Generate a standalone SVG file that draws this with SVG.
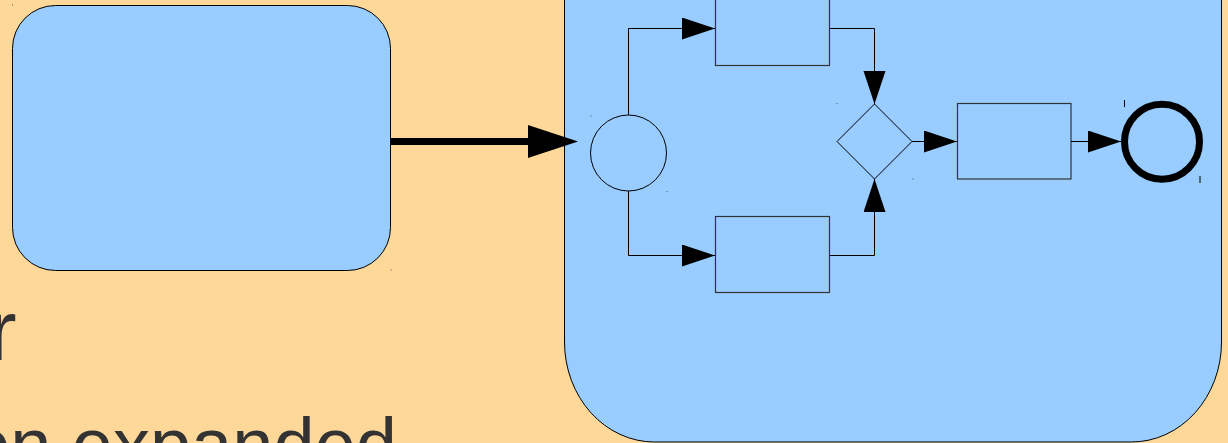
<svg xmlns="http://www.w3.org/2000/svg" width="1228" height="443" viewBox="0 0 1228 443">
  <defs>
    <style>
      .node { fill: #99CCFF; stroke: #000; stroke-width: 1; }
      .task { fill: #99CCFF; stroke: #333; stroke-width: 1.2; }
      .conn { fill: none; stroke: #000; stroke-width: 1; }
      .txt { font-family: "Liberation Sans", Arial, sans-serif; fill: #333333; }
      .mark { fill: #4a5a6a; }
    </style>
    <marker id="arr" markerUnits="userSpaceOnUse" markerWidth="34" markerHeight="24" refX="33" refY="11" orient="auto">
      <path d="M0,0 L33,11 L0,22 z" fill="#000"/>
    </marker>
    <marker id="bigarr" markerUnits="userSpaceOnUse" markerWidth="52" markerHeight="34" refX="0" refY="16.5" orient="auto">
      <path d="M0,0 L50,16.5 L0,33 z" fill="#000"/>
    </marker>
  </defs>

  <rect x="0" y="0" width="1228" height="443" fill="#FDD899"/>

  <g id="collapsed-subprocess">
    <rect class="node" x="12.5" y="5.5" width="378" height="265" rx="43" ry="43"/>
  </g>

  <g id="expanded-subprocess">
    <path class="node" d="M564.5,-20 L564.5,342 A90,100 0 0 0 654.5,442 L1131.5,442 A90,100 0 0 0 1221.5,342 L1221.5,-20 Z"/>
  </g>

  <g id="label-text">
    <text class="txt" x="-12" y="360" font-size="86">r</text>
    <text class="txt" x="-31" y="470" font-size="74">on expanded</text>
  </g>

  <g id="start-event">
    <circle cx="628.5" cy="153" r="38" fill="#99CCFF" stroke="#000" stroke-width="1"/>
  </g>
  <g id="task-top">
    <rect class="task" x="715.5" y="-10" width="114" height="75.5"/>
  </g>
  <g id="task-bottom">
    <rect class="task" x="715.5" y="216.5" width="114" height="76"/>
  </g>
  <g id="gateway">
    <polygon points="874.5,104 912,141.5 874.5,179 837,141.5" fill="#99CCFF" stroke="#000" stroke-width="1"/>
  </g>
  <g id="task-final">
    <rect class="task" x="957.5" y="103.5" width="113.5" height="75.5"/>
  </g>
  <g id="end-event">
    <circle cx="1162" cy="141.7" r="37.5" fill="#99CCFF" stroke="#000" stroke-width="7"/>
  </g>

  <g id="connectors">
    <path d="M390.5,141.5 H528" fill="none" stroke="#000" stroke-width="7" marker-end="url(#bigarr)"/>
    <path class="conn" d="M628.5,115 V28.5 H715" marker-end="url(#arr)"/>
    <path class="conn" d="M628.5,191 V255.5 H715" marker-end="url(#arr)"/>
    <path class="conn" d="M830,28.5 H874.5 V104" marker-end="url(#arr)"/>
    <path class="conn" d="M830,255.5 H874.5 V179" marker-end="url(#arr)"/>
    <path class="conn" d="M912,141.5 H957" marker-end="url(#arr)"/>
    <path class="conn" d="M1071,141.5 H1121" marker-end="url(#arr)"/>
  </g>

  <g id="marks">
    <rect class="mark" x="12" y="4.5" width="1" height="1"/>
    <rect class="mark" x="390.5" y="269.5" width="1" height="1"/>
    <rect class="mark" x="590.5" y="115.5" width="1" height="1"/>
    <rect class="mark" x="666.5" y="191" width="1" height="1"/>
    <rect class="mark" x="836.5" y="103" width="1" height="1"/>
    <rect class="mark" x="912.5" y="178.5" width="1" height="1"/>
    <rect x="1124" y="100" width="1" height="7" fill="#000"/>
    <rect x="1199.5" y="176" width="1" height="7" fill="#000"/>
  </g>
</svg>
